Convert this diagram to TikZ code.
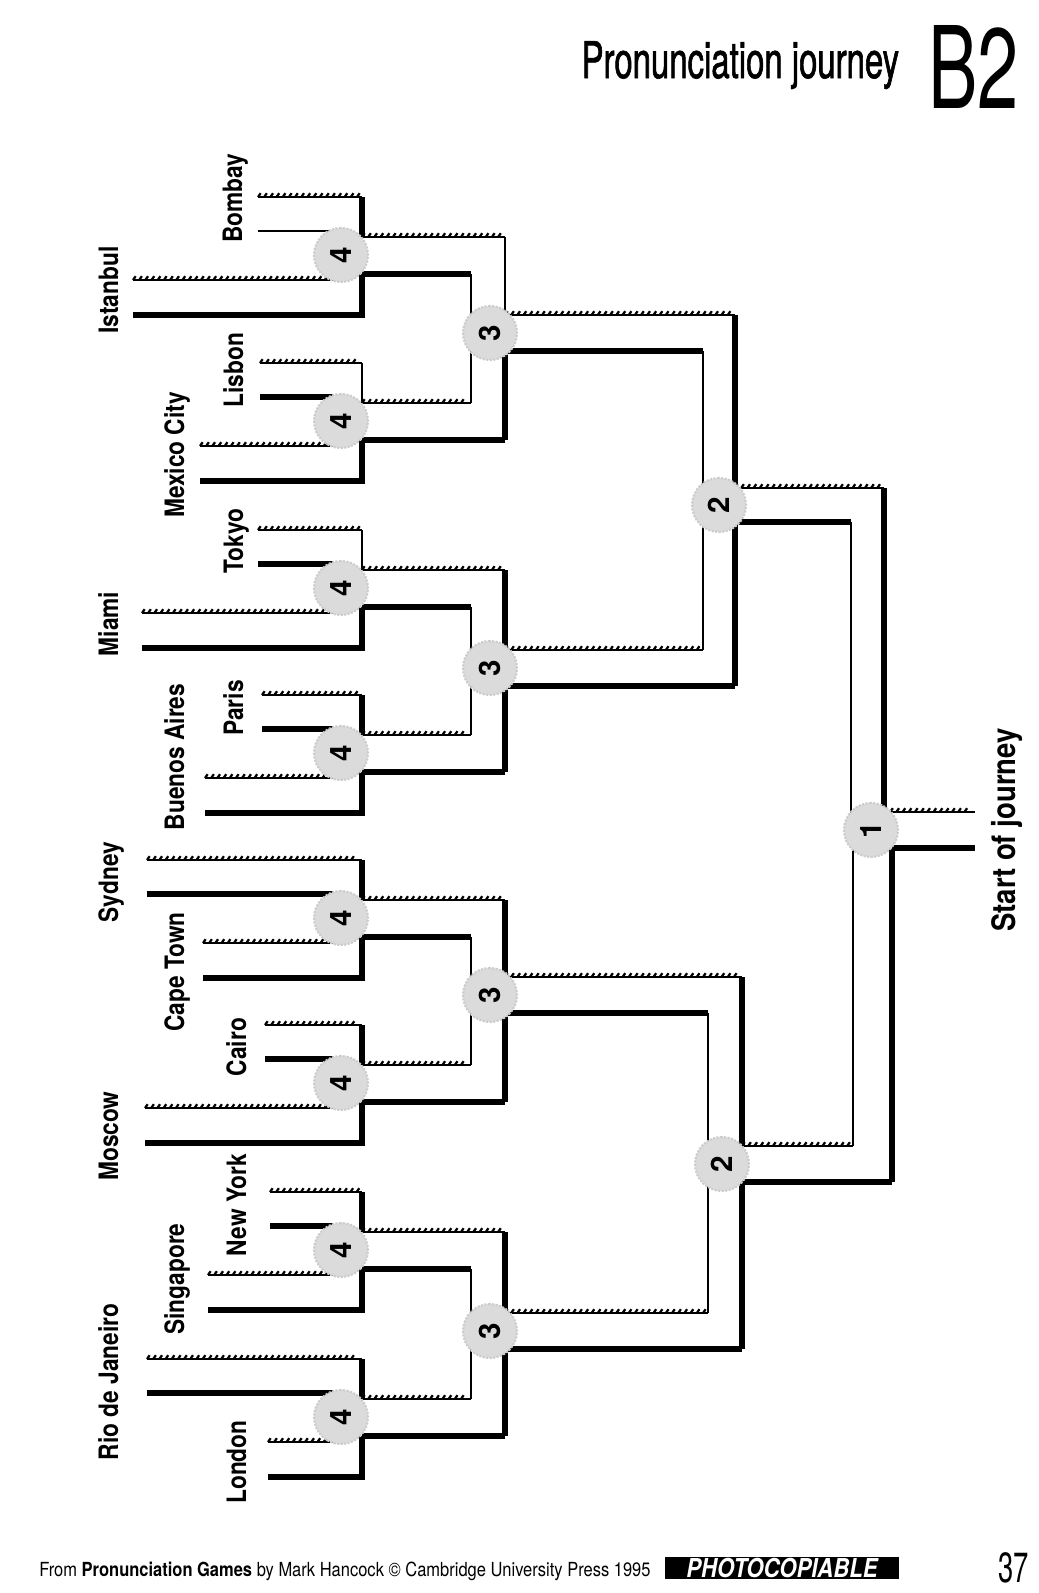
\documentclass[tikz,border=0pt]{standalone}
\usepackage{fontspec}
\setmainfont{TeX Gyre Heros}
\newfontfamily\condfont[FakeStretch=0.85]{TeX Gyre Heros}
\newfontfamily\titlefont[FakeStretch=0.65]{TeX Gyre Heros}
\newfontfamily\headfont[FakeStretch=0.65, FakeBold=1.2]{TeX Gyre Heros}
\usetikzlibrary{decorations.pathreplacing, positioning}
\tikzset{
  every picture/.style={line join=miter},
  % the three kinds of road edge
  tk/.style={line width=4pt, line cap=square},
  tn/.style={line width=1.1pt, line cap=square},
  hl/.style={line width=1.3pt, postaction={draw, decorate, line width=1.6pt,
      decoration={border, segment length=4.4pt, amplitude=3.3pt, angle=55}}},
  % junction discs and place names
  jn/.style={circle, fill=gray!28, draw=gray!40, densely dotted, line width=1.5pt,
      minimum size=1.35cm, inner sep=0pt, rotate=90,
      font=\bfseries\fontsize{21}{21}\selectfont},
  city/.style={rotate=90, anchor=base, font=\condfont\bfseries\fontsize{19}{19}\selectfont},
}

\begin{document}
\begin{tikzpicture}[x=0.025cm, y=-0.025cm]
  \useasboundingbox (0,0) rectangle (1039,1593);
  % heading
  \node[anchor=base east, font=\titlefont\fontsize{81}{81}\selectfont] (sheet) at (1024,108) {B2};
  \node[anchor=base east, font=\headfont\fontsize{36}{36}\selectfont] (title) at (904,78) {Pronunciation journey};
  % city roads into the first junctions
  \foreach \c/\ux/\us/\uv/\lx/\xt/\xb in {
      255/258/tn/tk/133/505/471, 421/260/tk/tn/200/471/505,
      588/258/tk/tn/142/505/471, 753/262/tk/tk/205/471/505,
      918/147/tk/tk/203/505/471, 1083/265/tk/tk/145/471/505,
      1250/270/tk/tk/208/505/471, 1417/147/tk/tk/268/471/505}{
    \draw[hl] (\ux,\c-58) -- (362,\c-58);
    \draw[\uv] (362,\c-58) -- (362,\c-18);
    \draw[\us] (\ux,\c-24) -- (334,\c-24);
    \draw[hl] (\lx,\c+25) -- (334,\c+25);
    \draw[tk] (\lx,\c+60) -- (362,\c+60) -- (362,\c+19);
    \draw[hl] (362,\c-18) -- (\xt,\c-18);
    \draw[tk] (362,\c+19) -- (\xb,\c+19);
  }
  % second junctions
  \foreach \j/\cu/\cl/\uv/\xt/\xb in {
      333/255/421/tn/735/703, 668/588/753/tk/703/735,
      995/918/1083/tk/742/708, 1331/1250/1417/tk/708/742}{
    \draw[\uv] (505,\cu-18) -- (505,\j-18);
    \draw[tn] (471,\cu+19) -- (471,\j);
    \draw[tn] (471,\cl-18) -- (471,\j);
    \draw[tk] (505,\cl+19) -- (505,\j+18);
    \draw[hl] (505,\j-18) -- (\xt,\j-18);
    \draw[tk] (505,\j+18) -- (\xb,\j+18);
  }
  % third junctions
  \draw[tk] (735,315) -- (735,488);
  \draw[tn] (703,351) -- (703,505);
  \draw[tn] (703,650) -- (703,505);
  \draw[tk] (735,686) -- (735,522);
  \draw[hl] (735,488) -- (884,488);
  \draw[tk] (735,522) -- (851,522);
  \draw[tk] (742,977) -- (742,1146);
  \draw[tn] (708,1013) -- (708,1164);
  \draw[tn] (708,1313) -- (708,1164);
  \draw[tk] (742,1349) -- (742,1182);
  \draw[hl] (742,1146) -- (853,1146);
  \draw[tk] (742,1182) -- (892,1182);
  % last junction and the road out
  \draw[tk] (884,488) -- (884,812);
  \draw[tn] (851,522) -- (851,830);
  \draw[tn] (853,1146) -- (853,830);
  \draw[tk] (892,1182) -- (892,848);
  \draw[hl] (884,812) -- (975,812);
  \draw[tk] (892,848) -- (975,848);
  % junction discs
  \foreach \c [count=\i] in {255,421,588,753,918,1083,1250,1417}
    \node[jn] (four-\i) at (341,\c) {4};
  \foreach \j [count=\i] in {333,668,995,1331}
    \node[jn] (three-\i) at (490,\j) {3};
  \node[jn] (two-1) at (719,505) {2};
  \node[jn] (two-2) at (722,1164) {2};
  \node[jn] (one) at (871,830) {1};
  % place names
  \foreach \name/\x/\y [count=\i] in {
      Bombay/242/198, Istanbul/118/290, Lisbon/243/370, Mexico City/184/455,
      Tokyo/243/541, Miami/118/624, Paris/243/708, Buenos Aires/184/757,
      Sydney/118/882, Cape Town/184/972, Cairo/246/1047, Moscow/118/1136,
      New York/246/1205, Singapore/184/1279, Rio de Janeiro/118/1382, London/246/1462}
    \node[city] (city-\i) at (\x,\y) {\name};
  \node[city, font=\condfont\bfseries\fontsize{23}{23}\selectfont] (start) at (1015,830) {Start of journey};
  % footer
  \node[anchor=base west, inner sep=0pt, font=\condfont\fontsize{13.8}{14}\selectfont] (credit) at (39,1576)
    {From \textbf{Pronunciation Games} by Mark Hancock © Cambridge University Press 1995};
  \node[fill=black, text=white, minimum width=5.85cm, minimum height=0.55cm, inner sep=0pt,
    font=\condfont\bfseries\itshape\fontsize{18.5}{18.5}\selectfont] (copy) at (782,1568) {PHOTOCOPIABLE};
  \node[anchor=base east, inner sep=0pt, font=\titlefont\fontsize{30}{30}\selectfont] (page) at (1029,1582) {37};
\end{tikzpicture}
\end{document}
